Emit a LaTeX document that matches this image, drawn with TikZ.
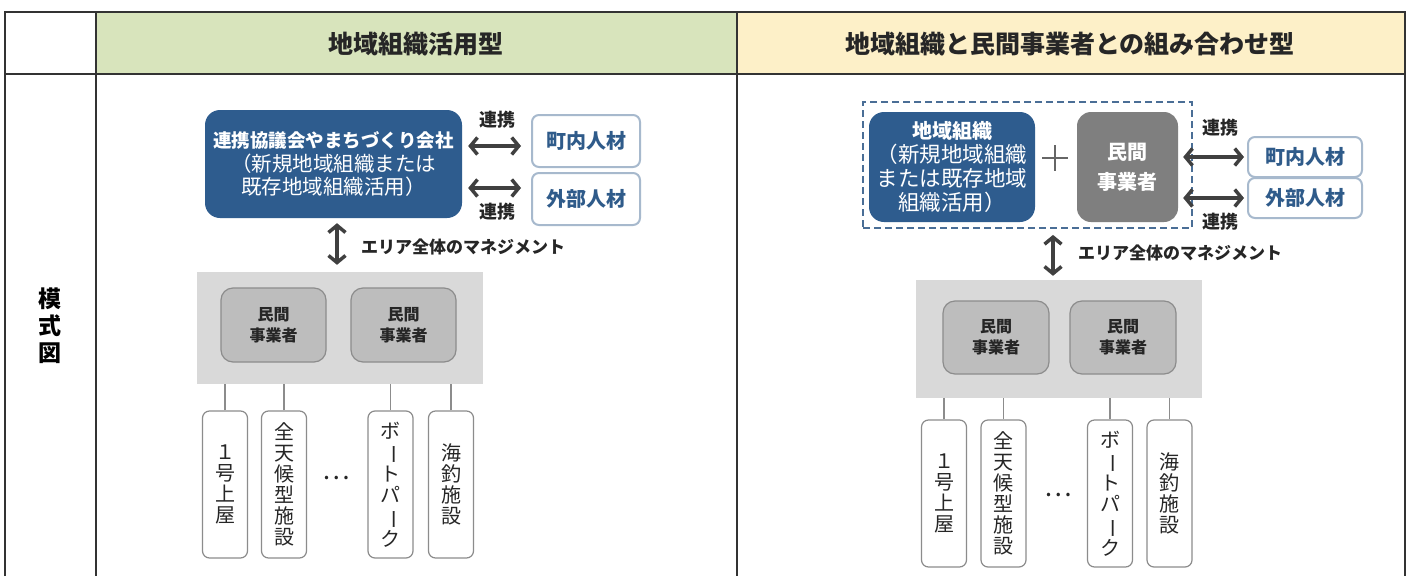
\documentclass[tikz,border=0pt]{standalone}
\usepackage{fontspec}
\setmainfont{Noto Sans CJK JP}
\usepackage{graphicx}
\usetikzlibrary{arrows.meta,calc}
\definecolor{tblc}{HTML}{333333}
\definecolor{hdrgreen}{HTML}{D8E4BC}
\definecolor{hdryellow}{HTML}{FDF0C8}
\definecolor{orgblue}{HTML}{2E5C8E}
\definecolor{pbord}{HTML}{A7B9CD}
\definecolor{ptext}{HTML}{2F5B8A}
\definecolor{panelgrey}{HTML}{D9D9D9}
\definecolor{innergrey}{HTML}{BDBDBD}
\definecolor{innerbord}{HTML}{8C8C8C}
\definecolor{darkbox}{HTML}{7F7F7F}
\definecolor{arrc}{HTML}{404040}
\definecolor{dashc}{HTML}{4A6E96}
\definecolor{txtc}{HTML}{262626}
\newcommand{\vbar}{\rotatebox[origin=c]{-90}{ー}}
\begin{document}
\begin{tikzpicture}[x=1pt,y=-1pt,
  tbl/.style={draw=tblc,line width=2pt},
  hdr/.style={font=\fontsize{25}{30}\selectfont\bfseries,text=txtc,inner sep=0pt},
  orgbox/.style={fill=orgblue,rounded corners=15pt,inner sep=0pt,text=white,align=center},
  personbox/.style={draw=pbord,line width=2pt,fill=white,rounded corners=7pt,inner sep=0pt,text=ptext,font=\fontsize{20}{24}\selectfont\bfseries},
  panel/.style={fill=panelgrey,inner sep=0pt},
  bizbox/.style={fill=innergrey,draw=innerbord,line width=1.2pt,rounded corners=12pt,inner sep=0pt,align=center,text=txtc,font=\fontsize{16}{21}\selectfont\bfseries,minimum width=105pt,minimum height=74pt},
  tallbox/.style={draw=innerbord,line width=1.2pt,fill=white,rounded corners=7pt,inner sep=0pt,align=center,text=txtc,font=\fontsize{20}{21}\selectfont,minimum width=45pt,minimum height=147pt},
  biarrow/.style={draw=arrc,line width=3.5pt,{Straight Barb[length=7pt,width=17pt]}-{Straight Barb[length=7pt,width=17pt]}},
  link/.style={draw=innerbord,line width=1.6pt},
  lbl/.style={font=\fontsize{18}{22}\selectfont\bfseries,text=txtc,inner sep=0pt},
  mlbl/.style={font=\fontsize{17}{20}\selectfont\bfseries,text=txtc,inner sep=0pt,anchor=west},
  dots/.style={font=\fontsize{26}{28}\selectfont,text=txtc,inner sep=0pt}
]
\useasboundingbox (0,0) rectangle (1414,576);
\fill[white] (0,0) rectangle (1414,576);
% header fills
\fill[hdrgreen] (96,12) rectangle (737,74);
\fill[hdryellow] (737,12) rectangle (1405,74);
% table lines
\draw[tbl] (5,576) -- (5,12) -- (1405,12) -- (1405,576);
\draw[tbl] (5,74) -- (1405,74);
\draw[tbl] (96,12) -- (96,576);
\draw[tbl] (737,12) -- (737,576);
% headers
\node[hdr] (h1) at (416,44) {地域組織活用型};
\node[hdr] (h2) at (1070,44) {地域組織と民間事業者との組み合わせ型};
\node[font=\fontsize{23}{27}\selectfont\bfseries,align=center,inner sep=0pt,text=black] (side) at (50,326) {模\\式\\図};

% ===== left panel =====
\node[orgbox,minimum width=257pt,minimum height=108pt,font=\fontsize{20.5}{23.5}\selectfont] (org1) at (333.5,164)
  {{\fontsize{18.5}{23.5}\selectfont\bfseries 連携協議会やまちづくり会社}\\
   （新規地域組織または\\
   既存地域組織活用）};
\node[personbox,minimum width=108pt,minimum height=52pt] (in1) at (586,141) {町内人材};
\node[personbox,minimum width=108pt,minimum height=52pt] (out1) at (586,199) {外部人材};
\node[lbl] (r1a) at (497,120) {連携};
\node[lbl] (r1b) at (497,212) {連携};
\draw[biarrow,shorten >=10pt] ([xshift=6pt,yshift=18pt]org1.east) -- ([yshift=18pt]org1.east -| in1.west);
\draw[biarrow,shorten >=10pt] ([xshift=6pt,yshift=-24pt]org1.east) -- ([yshift=-24pt]org1.east -| out1.west);

\node[panel,minimum width=286pt,minimum height=112pt] (pan1) at (340,328) {};
\coordinate (va1) at (337,0);
\draw[biarrow,shorten <=5pt,shorten >=7pt] (org1.south -| va1) -- (pan1.north -| va1);
\node[mlbl] (m1) at (361,247) {エリア全体のマネジメント};
\node[bizbox] (b1a) at (273.5,325) {民間\\事業者};
\node[bizbox] (b1b) at (403.5,325) {民間\\事業者};

\node[tallbox] (t1a) at (225,484.5) {１\\号\\上\\屋};
\node[tallbox] (t1b) at (284,484.5) {全\\天\\候\\型\\施\\設};
\node[tallbox] (t1c) at (390.5,484.5) {ボ\\\vbar\\ト\\パ\\\vbar\\ク};
\node[tallbox] (t1d) at (451,484.5) {海\\釣\\施\\設};
\node[dots] (d1) at (336,478) {…};
\foreach \t in {t1a,t1b,t1c,t1d} \draw[link] (\t.north) -- (\t.north |- pan1.south);

% ===== right panel =====
\node[draw=dashc,line width=1.8pt,minimum width=329pt,minimum height=126pt,inner sep=0pt,dash pattern=on 7pt off 4pt] (grp) at (1027.5,165) {};
\node[orgbox,minimum width=166pt,minimum height=110pt,font=\fontsize{21.5}{24}\selectfont] (org2) at (952,167)
  {{\fontsize{20}{24}\selectfont\bfseries 地域組織}\\
   （新規地域組織\\
   または既存地域\\
   組織活用）};
\node[fill=darkbox,rounded corners=14pt,inner sep=0pt,minimum width=101pt,minimum height=110pt,text=white,align=center,font=\fontsize{20}{30}\selectfont\bfseries] (biz2) at (1127.5,167) {民間\\事業者};
\draw[arrc!80,line width=1.5pt] (1042,158) -- (1068,158) (1055,145) -- (1055,171);
\node[personbox,minimum width=114pt,minimum height=40pt] (in2) at (1305,157) {町内人材};
\node[personbox,minimum width=114pt,minimum height=40pt] (out2) at (1305,198) {外部人材};
\node[lbl] (r2a) at (1220,128) {連携};
\node[lbl] (r2b) at (1220,222) {連携};
\draw[biarrow,shorten <=5pt,shorten >=3pt] (biz2.east |- in2.west) -- (in2.west);
\draw[biarrow,shorten <=5pt,shorten >=3pt] (biz2.east |- out2.west) -- (out2.west);

\node[panel,minimum width=286pt,minimum height=118pt] (pan2) at (1059,339) {};
\coordinate (va2) at (1053,0);
\draw[biarrow,shorten <=6pt,shorten >=4pt] (grp.south -| va2) -- (pan2.north -| va2);
\node[mlbl] (m2) at (1078,253) {エリア全体のマネジメント};
\node[bizbox,minimum width=106pt,minimum height=73pt] (b2a) at (996,337.5) {民間\\事業者};
\node[bizbox,minimum width=106pt,minimum height=73pt] (b2b) at (1123,337.5) {民間\\事業者};

\node[tallbox] (t2a) at (944,493.5) {１\\号\\上\\屋};
\node[tallbox] (t2b) at (1003.5,493.5) {全\\天\\候\\型\\施\\設};
\node[tallbox] (t2c) at (1110,493.5) {ボ\\\vbar\\ト\\パ\\\vbar\\ク};
\node[tallbox] (t2d) at (1169.5,493.5) {海\\釣\\施\\設};
\node[dots] (d2) at (1058,495) {…};
\foreach \t in {t2a,t2b,t2c,t2d} \draw[link] (\t.north) -- (\t.north |- pan2.south);
\end{tikzpicture}
\end{document}
